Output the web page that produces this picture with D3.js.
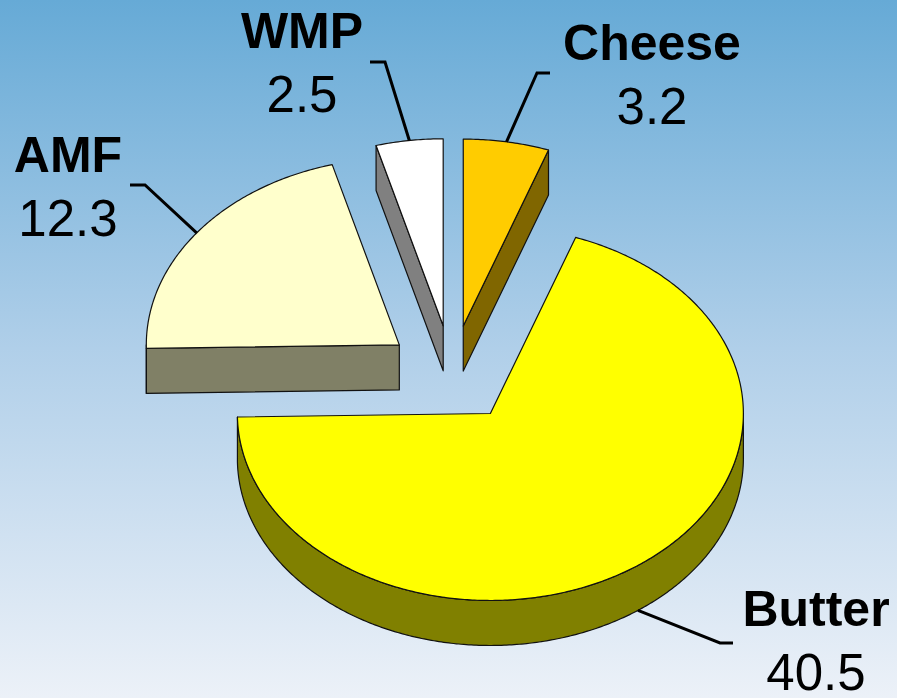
<!DOCTYPE html>
<html>
<head>
<meta charset="utf-8">
<script src="https://cdn.jsdelivr.net/npm/d3@7"></script>
<style>
  body { margin: 0; overflow: hidden; }
  text { font-family: "Liberation Sans", Arial, sans-serif; }
</style>
</head>
<body>
<div id="chart"></div>
<script>
// data
const categories  = ["Cheese", "Butter", "AMF", "WMP"];
const values      = [3.2, 40.5, 12.3, 2.5];
const valueLabels = ["3.2", "40.5", "12.3", "2.5"];

// ----------------------------------------------------------

const width  = 897;
const height = 698;
const center = {x: 452, y: 374};
const rx = 253, ry = 187, depth = 45;
const explode = 0.26;

const topColor  = d3.scaleOrdinal().domain(categories).range(["#ffcc00", "#ffff00", "#ffffcc", "#ffffff"]);
const sideColor = d3.scaleOrdinal().domain(categories).range(["#806600", "#808000", "#808066", "#808080"]);

// label text centre / baseline and leader elbow
const labelLayout = {
    Cheese: {x: 652, y: 60,  elbow: [537, 73],  tick: 13},
    Butter: {x: 816, y: 626, elbow: [720, 643], tick: 13},
    AMF:    {x: 68,  y: 172, elbow: [145, 185], tick: -15},
    WMP:    {x: 302, y: 48,  elbow: [385, 62],  tick: -15}
};

const svg = d3.select("#chart")
    .append("svg")
    .attr("width", width)
    .attr("height", height)

const grad = svg.append("defs").append("linearGradient")
    .attr("id", "bg")
    .attr("x1", 0).attr("y1", 0).attr("x2", 0).attr("y2", 1)
grad.append("stop").attr("offset", "0%").attr("stop-color", "#66aad6")
grad.append("stop").attr("offset", "50%").attr("stop-color", "#b0cfe9")
grad.append("stop").attr("offset", "100%").attr("stop-color", "#ecf1f8")

svg.append("rect")
    .attr("width", width)
    .attr("height", height)
    .attr("fill", "url(#bg)")

const pie = d3.pie().sort(null).value(d => d.value)
const data = categories.map((c, i) => ({name: c, value: values[i], label: valueLabels[i]}))
const arcs = pie(data)

arcs.forEach(d => {
    d.mid = (d.startAngle + d.endAngle) / 2
    d.cx = center.x + explode * rx * Math.sin(d.mid)
    d.cy = center.y - explode * ry * Math.cos(d.mid)
})

const pt = (d, a, r, z) => [d.cx + r * rx * Math.sin(a), d.cy - r * ry * Math.cos(a) + z]
const arcPts = (d, a0, a1, z) => {
    const n = Math.max(2, Math.ceil(Math.abs(a1 - a0) / 0.01))
    return d3.range(n + 1).map(i => pt(d, a0 + (a1 - a0) * i / n, 1, z))
}
const line = d3.line()

const pieGroup = svg.append("g").attr("id", "pieGroup")

// back slices first
const order = arcs.slice().sort((a, b) => Math.cos(b.mid) - Math.cos(a.mid))

order.forEach(d => {
    const g = pieGroup.append("g")
    const faces = []
    // radial side faces facing the viewer
    ;[[d.startAngle, d.startAngle - Math.PI / 2], [d.endAngle, d.endAngle + Math.PI / 2]].forEach(([a, n]) => {
        if (Math.cos(n) < -1e-6) {
            const o = pt(d, a, 1, 0)
            faces.push([pt(d, 0, 0, 0), o, [o[0], o[1] + depth], pt(d, 0, 0, depth)])
        }
    })
    // outer curved side, front half only
    const a0 = Math.max(d.startAngle, Math.PI / 2)
    const a1 = Math.min(d.endAngle, 3 * Math.PI / 2)
    if (a1 > a0) {
        faces.push(arcPts(d, a0, a1, 0).concat(arcPts(d, a1, a0, depth)))
    }
    g.selectAll("path.side")
    .data(faces)
    .join("path")
        .attr("class", "side")
        .attr("d", p => line(p) + "Z")
        .attr("fill", sideColor(d.data.name))
        .attr("stroke", "#111")
        .attr("stroke-width", 1.2)
        .attr("stroke-linejoin", "round")

    g.append("path")
        .attr("d", line([pt(d, 0, 0, 0)].concat(arcPts(d, d.startAngle, d.endAngle, 0))) + "Z")
        .attr("fill", topColor(d.data.name))
        .attr("stroke", "#111")
        .attr("stroke-width", 1.2)
        .attr("stroke-linejoin", "round")
})

// labels with leader lines
const labelGroup = svg.append("g").attr("id", "labelGroup")

arcs.forEach(d => {
    const L = labelLayout[d.data.name]
    const front = Math.cos(d.mid) < 0
    const anchor = pt(d, d.mid, 1, front ? depth : 0)
    labelGroup.append("path")
        .attr("d", line([anchor, L.elbow, [L.elbow[0] + L.tick, L.elbow[1]]]))
        .attr("fill", "none")
        .attr("stroke", "#000")
        .attr("stroke-width", 3)

    labelGroup.append("text")
        .text(d.data.name)
        .attr("x", L.x)
        .attr("y", L.y)
        .attr("text-anchor", "middle")
        .attr("font-size", 50)
        .attr("font-weight", "bold")
        .attr("fill", "#000")

    labelGroup.append("text")
        .text(d.data.label)
        .attr("x", L.x)
        .attr("y", L.y + 64)
        .attr("text-anchor", "middle")
        .attr("font-size", 51)
        .attr("fill", "#000")
})
</script>
</body>
</html>
